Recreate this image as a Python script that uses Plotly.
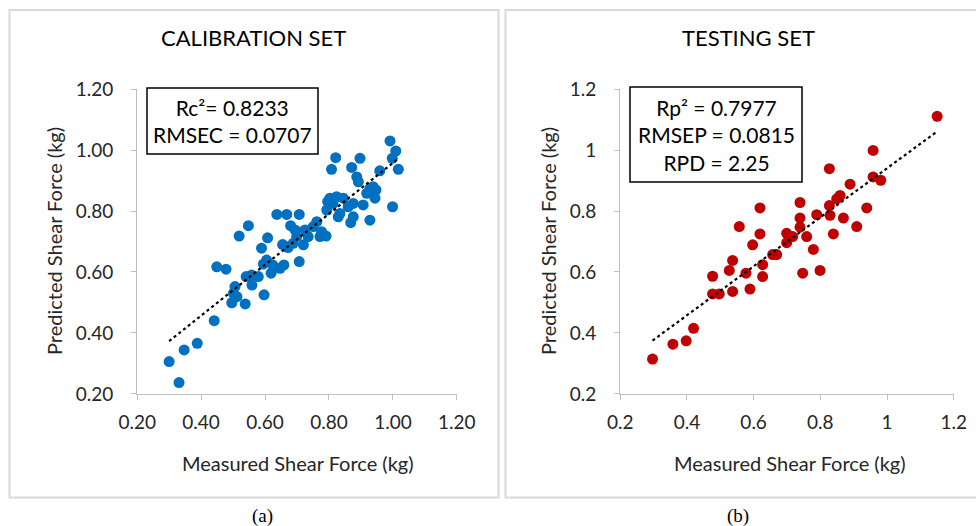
import numpy as np
import plotly.graph_objects as go

# Calibration set (measured, predicted)
cal_measured = [0.300, 0.331, 0.347, 0.388, 0.441, 0.449, 0.478, 0.496, 0.501, 0.506,
                0.512, 0.519, 0.538, 0.548, 0.541, 0.558, 0.559, 0.579, 0.589, 0.597,
                0.608, 0.595, 0.605, 0.619, 0.624, 0.637, 0.647, 0.659, 0.668, 0.668,
                0.680, 0.688, 0.707, 0.707, 0.694, 0.699, 0.720, 0.725, 0.735, 0.751,
                0.762, 0.772, 0.791, 0.777, 0.793, 0.803, 0.808, 0.821, 0.796, 0.813,
                0.829, 0.834, 0.845, 0.860, 0.868, 0.876, 0.871, 0.887, 0.892, 0.897,
                0.876, 0.907, 0.918, 0.928, 0.928, 0.938, 0.944, 0.947, 0.959, 0.991,
                0.998, 1.009, 1.017, 0.999, 0.824, 0.938, 0.672, 0.655]
cal_predicted = [0.306, 0.237, 0.344, 0.366, 0.440, 0.617, 0.609, 0.499, 0.530, 0.552,
                 0.519, 0.718, 0.495, 0.752, 0.585, 0.590, 0.557, 0.585, 0.678, 0.525,
                 0.712, 0.626, 0.639, 0.596, 0.623, 0.789, 0.612, 0.623, 0.789, 0.683,
                 0.752, 0.694, 0.789, 0.634, 0.738, 0.716, 0.689, 0.738, 0.716, 0.749,
                 0.765, 0.716, 0.718, 0.732, 0.803, 0.842, 0.937, 0.975, 0.831, 0.825,
                 0.781, 0.792, 0.842, 0.814, 0.762, 0.781, 0.943, 0.912, 0.896, 0.973,
                 0.825, 0.820, 0.858, 0.770, 0.874, 0.858, 0.842, 0.869, 0.932, 1.030,
                 0.973, 0.997, 0.937, 0.814, 0.847, 0.880, 0.680, 0.690]

# Testing set (measured, predicted)
test_measured = [0.297, 0.358, 0.398, 0.420, 0.477, 0.477, 0.497, 0.527, 0.537, 0.537,
                 0.557, 0.577, 0.589, 0.597, 0.619, 0.619, 0.627, 0.627, 0.657, 0.669,
                 0.699, 0.699, 0.717, 0.739, 0.739, 0.739, 0.747, 0.759, 0.779, 0.789,
                 0.799, 0.827, 0.827, 0.829, 0.839, 0.849, 0.859, 0.869, 0.889, 0.909,
                 0.939, 0.958, 0.958, 0.981, 1.150]
test_predicted = [0.314, 0.363, 0.374, 0.415, 0.586, 0.528, 0.528, 0.605, 0.638, 0.536,
                  0.749, 0.596, 0.544, 0.689, 0.810, 0.725, 0.624, 0.585, 0.657, 0.657,
                  0.727, 0.696, 0.716, 0.828, 0.777, 0.747, 0.596, 0.716, 0.674, 0.788,
                  0.605, 0.939, 0.818, 0.786, 0.725, 0.840, 0.851, 0.777, 0.888, 0.749,
                  0.810, 0.999, 0.912, 0.901, 1.111]

axis_ticks = [0.2, 0.4, 0.6, 0.8, 1.0, 1.2]
titles = ["CALIBRATION SET", "TESTING SET"]
stats_cal = ["Rc²= 0.8233", "RMSEC = 0.0707"]
stats_test = ["Rp² = 0.7977", "RMSEP = 0.0815", "RPD = 2.25"]
x_title = "Measured Shear Force (kg)"
y_title = "Predicted Shear Force (kg)"
panel_labels = ["(a)", "(b)"]

W, H = 976, 526
def px(x): return x / W
def py(y): return 1 - y / H

FONT = "Lato, 'Open Sans', sans-serif"
BLUE = "#0070C0"
RED = "#C00000"
GRID = "#BFBFBF"

fig = go.Figure()

def trend(xs, ys):
    m, b = np.polyfit(xs, ys, 1)
    xl = np.array([min(xs), max(xs)])
    return xl, m * xl + b

fig.add_trace(go.Scatter(x=cal_measured, y=cal_predicted, mode="markers",
                         marker=dict(color=BLUE, size=11), xaxis="x", yaxis="y",
                         showlegend=False))
xl, yl = trend(cal_measured, cal_predicted)
fig.add_trace(go.Scatter(x=xl, y=yl, mode="lines", line=dict(color="black", width=2.2, dash="dot"),
                         xaxis="x", yaxis="y", showlegend=False))

fig.add_trace(go.Scatter(x=test_measured, y=test_predicted, mode="markers",
                         marker=dict(color=RED, size=11), xaxis="x2", yaxis="y2",
                         showlegend=False))
xl2, yl2 = trend(test_measured, test_predicted)
fig.add_trace(go.Scatter(x=xl2, y=yl2, mode="lines", line=dict(color="black", width=2.2, dash="dot"),
                         xaxis="x2", yaxis="y2", showlegend=False))

common = dict(range=[0.1995, 1.2005], tickvals=axis_ticks, showline=True, linecolor=GRID,
              linewidth=1, ticks="outside", ticklen=5, tickcolor=GRID, showgrid=False,
              zeroline=False, automargin=False,
              tickfont=dict(family=FONT, size=19, color="#262626"))

ydom = [py(394), py(89)]
fig.update_layout(
    width=W, height=H, margin=dict(l=0, r=0, t=0, b=0, autoexpand=False),
    paper_bgcolor="white", plot_bgcolor="white",
    xaxis=dict(domain=[px(137), px(457)], anchor="y", tickformat=".2f",
               ticklabelstandoff=6, **common),
    yaxis=dict(domain=ydom, anchor="x", tickformat=".2f", ticklabelstandoff=14, **common),
    xaxis2=dict(domain=[px(620), px(954)], anchor="y2", ticklabelstandoff=6, **common),
    yaxis2=dict(domain=ydom, anchor="x2", ticklabelstandoff=14, **common),
)

shapes = [
    dict(type="rect", xref="paper", yref="paper", x0=px(9.5), x1=px(498.5), y0=py(497.5), y1=py(10),
         line=dict(color="#D9D9D9", width=2)),
    dict(type="rect", xref="paper", yref="paper", x0=px(505.5), x1=px(990), y0=py(497.5), y1=py(10),
         line=dict(color="#D9D9D9", width=2)),
    dict(type="rect", xref="paper", yref="paper", x0=px(147), x1=px(318), y0=py(154), y1=py(88),
         line=dict(color="black", width=1.5), fillcolor="white", layer="below"),
    dict(type="rect", xref="paper", yref="paper", x0=px(630), x1=px(802), y0=py(182), y1=py(87),
         line=dict(color="black", width=1.5), fillcolor="white", layer="below"),
]
fig.update_layout(shapes=shapes)

ann = []
def text(x, y, s, size, family=FONT, angle=0, color="#262626"):
    ann.append(dict(x=px(x), y=py(y), xref="paper", yref="paper", text=s, showarrow=False,
                    xanchor="center", yanchor="middle", textangle=angle,
                    font=dict(family=family, size=size, color=color)))

text(254, 38, titles[0], 22, color="black")
text(748, 38, titles[1], 22, color="black")
text(232.5, 121, "<br>".join(stats_cal), 21, color="black")
text(716, 135, "<br>".join(stats_test), 21, color="black")
text(298, 463, x_title, 20)
text(790, 463, x_title, 20)
text(54, 241, y_title, 20, angle=-90)
text(548, 241, y_title, 20, angle=-90)
text(262, 516, panel_labels[0], 19, family="'Liberation Serif', serif", color="black")
text(738, 516, panel_labels[1], 19, family="'Liberation Serif', serif", color="black")
fig.update_layout(annotations=ann)

fig.write_html("out.html")
